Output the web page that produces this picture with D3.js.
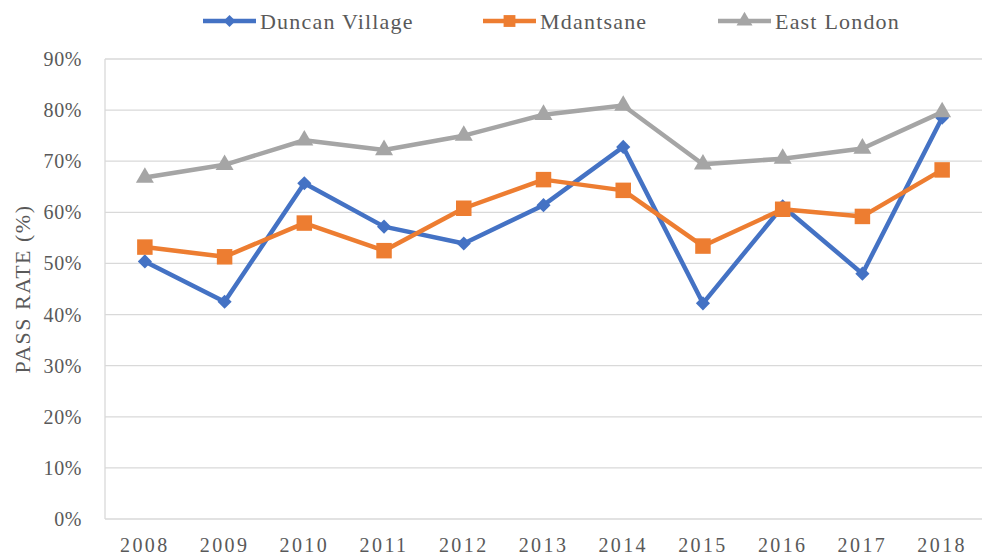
<!DOCTYPE html>
<html><head><meta charset="utf-8">
<script src="https://cdn.jsdelivr.net/npm/d3@7"></script>
<style>
html,body{margin:0;padding:0;background:#fff;}
svg text{font-family:"Liberation Serif","DejaVu Serif",serif;fill:#595959;}
</style></head><body>
<svg id="c" width="983" height="556"></svg>
<script>
const years = ["2008","2009","2010","2011","2012","2013","2014","2015","2016","2017","2018"];
const duncanVillage = [50.4,42.5,65.7,57.2,53.9,61.4,72.8,42.2,61.2,48.0,78.5];
const mdantsane = [53.2,51.3,57.9,52.5,60.8,66.4,64.3,53.4,60.6,59.2,68.3];
const eastLondon = [66.8,69.3,74.1,72.2,75.0,79.1,80.9,69.4,70.5,72.5,79.6];
const yTicks = [0,10,20,30,40,50,60,70,80,90];
const seriesNames = ["Duncan Village","Mdantsane","East London"];

const series = [
  {name:seriesNames[0], values:duncanVillage, color:"#4472C4", shape:"diamond"},
  {name:seriesNames[1], values:mdantsane, color:"#ED7D31", shape:"square"},
  {name:seriesNames[2], values:eastLondon, color:"#A5A5A5", shape:"triangle"}
];

const svg = d3.select("#c");
const pL=105, pR=982, pT=59, pB=519;
const x = d3.scaleBand().domain(years).range([pL,pR]);
const y = d3.scaleLinear().domain([0,90]).range([pB,pT]);

// gridlines
svg.append("g").selectAll("line").data(yTicks).join("line")
  .attr("x1",pL).attr("x2",pR)
  .attr("y1",d=>y(d)).attr("y2",d=>y(d))
  .attr("stroke","#D9D9D9").attr("stroke-width",1.3);
svg.append("line").attr("x1",pL).attr("x2",pL).attr("y1",pT).attr("y2",pB)
  .attr("stroke","#D9D9D9").attr("stroke-width",1.3);

// y tick labels
svg.append("g").selectAll("text").data(yTicks).join("text")
  .attr("x",82).attr("y",d=>y(d)).attr("dy","0.35em")
  .attr("text-anchor","end").attr("font-size",20).attr("letter-spacing",0.6)
  .text(d=>d+"%");

// x tick labels
svg.append("g").selectAll("text").data(years).join("text")
  .attr("x",d=>x(d)+x.bandwidth()/2).attr("y",552)
  .attr("text-anchor","middle").attr("font-size",20).attr("letter-spacing",2.4)
  .text(d=>d);

// y axis title
svg.append("text").attr("transform","translate(30,289) rotate(-90)")
  .attr("text-anchor","middle").attr("font-size",22).attr("letter-spacing",1.5)
  .text("PASS RATE (%)");

const symPath = s => {
  if (s==="diamond") return d3.symbol().type(d3.symbolSquare).size(100)();
  if (s==="square") return d3.symbol().type(d3.symbolSquare).size(240)();
  return d3.symbol().type(d3.symbolTriangle).size(140)();
};
const symTransform = s => s==="diamond" ? " rotate(45)" : "";

const line = d3.line().x((d,i)=>x(years[i])+x.bandwidth()/2).y(d=>y(d));

series.forEach(s=>{
  const g = svg.append("g");
  g.append("path").attr("d",line(s.values)).attr("fill","none")
    .attr("stroke",s.color).attr("stroke-width",4.5).attr("stroke-linejoin","round");
  g.selectAll("path.m").data(s.values).join("path").attr("class","m")
    .attr("d",symPath(s.shape)).attr("fill",s.color)
    .attr("transform",(d,i)=>`translate(${x(years[i])+x.bandwidth()/2},${y(d)})${symTransform(s.shape)}`);
});

// legend
const legendX = [203,483,718];
const lg = svg.append("g");
series.forEach((s,i)=>{
  const gx = legendX[i], gy = 21;
  lg.append("line").attr("x1",gx).attr("x2",gx+53).attr("y1",gy).attr("y2",gy)
    .attr("stroke",s.color).attr("stroke-width",4.5);
  const sz = s.shape==="diamond"?72:(s.shape==="square"?140:110);
  lg.append("path").attr("d",d3.symbol().type(s.shape==="triangle"?d3.symbolTriangle:d3.symbolSquare).size(sz)())
    .attr("fill",s.color)
    .attr("transform",`translate(${gx+26.5},${gy})${symTransform(s.shape)}`);
  lg.append("text").attr("x",gx+57).attr("y",gy).attr("dy","0.35em")
    .attr("font-size",22).attr("letter-spacing",1.2).text(s.name);
});
</script>
</body></html>
